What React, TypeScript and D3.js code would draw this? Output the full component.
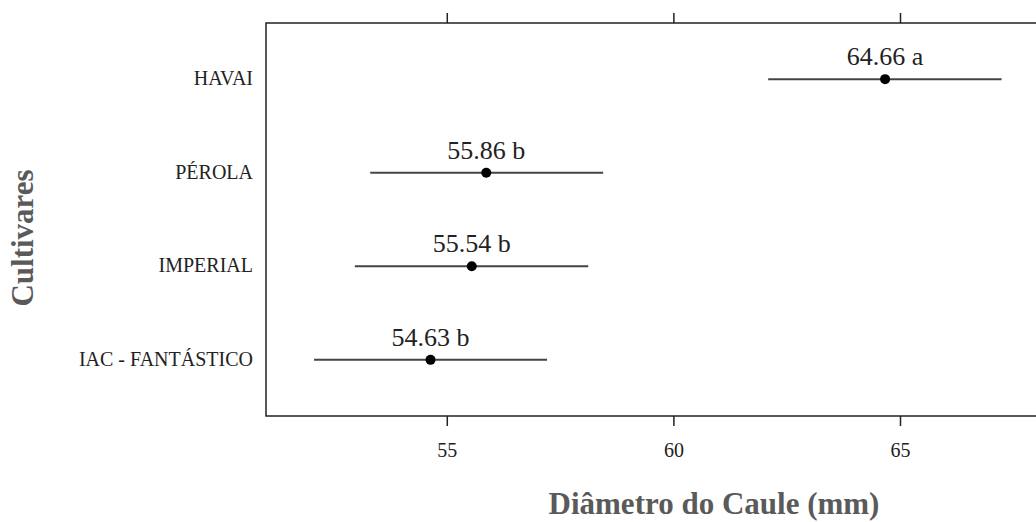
import React from "react";
import * as d3 from "d3";

const categories = ["IAC - FANTÁSTICO", "IMPERIAL", "PÉROLA", "HAVAI"];
const means = [54.63, 55.54, 55.86, 64.66];
const lowers = [52.06, 52.96, 53.3, 62.08];
const uppers = [57.2, 58.11, 58.44, 67.23];
const letters = ["b", "b", "b", "a"];
const xTicks = [55, 60, 65];

const W = 1036;
const H = 522;
const left = 266;
const right = 1041;
const top = 23;
const bottom = 416;
const font = "'Liberation Serif', 'Times New Roman', serif";

export default function App() {
  const x = d3.scaleLinear().domain([51, 68.1]).range([left, right]);
  const y = d3.scaleLinear().domain([0.4, 4.6]).range([bottom, top]);

  return (
    <svg
      width={W}
      height={H}
      style={{ position: "absolute", left: 0, top: 0, background: "#fff" }}
    >
      <rect x={left} y={top} width={right - left} height={bottom - top} fill="none" stroke="#222" strokeWidth={1.5} />
      {xTicks.map((t) => (
        <g key={t}>
          <line x1={x(t)} x2={x(t)} y1={top} y2={top - 10} stroke="#222" strokeWidth={1.5} />
          <line x1={x(t)} x2={x(t)} y1={bottom} y2={bottom + 10} stroke="#222" strokeWidth={1.5} />
          <text x={x(t)} y={457} textAnchor="middle" fontFamily={font} fontSize={20} fill="#222">
            {t}
          </text>
        </g>
      ))}
      {categories.map((c, i) => {
        const yy = y(i + 1);
        return (
          <g key={c}>
            <text x={253} y={yy + 6} textAnchor="end" fontFamily={font} fontSize={20} fill="#222">
              {c}
            </text>
            <line x1={x(lowers[i])} x2={x(uppers[i])} y1={yy} y2={yy} stroke="#444" strokeWidth={2} />
            <circle cx={x(means[i])} cy={yy} r={5} fill="#000" />
            <text x={x(means[i])} y={yy - 14} textAnchor="middle" fontFamily={font} fontSize={26} fill="#222">
              {means[i].toFixed(2) + " " + letters[i]}
            </text>
          </g>
        );
      })}
      <text x={714} y={514} textAnchor="middle" fontFamily={font} fontSize={31} fontWeight="bold" fill="#5a5a5a">
        Diâmetro do Caule (mm)
      </text>
      <text
        transform={`translate(33,238) rotate(-90)`}
        textAnchor="middle"
        fontFamily={font}
        fontSize={31}
        fontWeight="bold"
        fill="#5a5a5a"
      >
        Cultivares
      </text>
    </svg>
  );
}
